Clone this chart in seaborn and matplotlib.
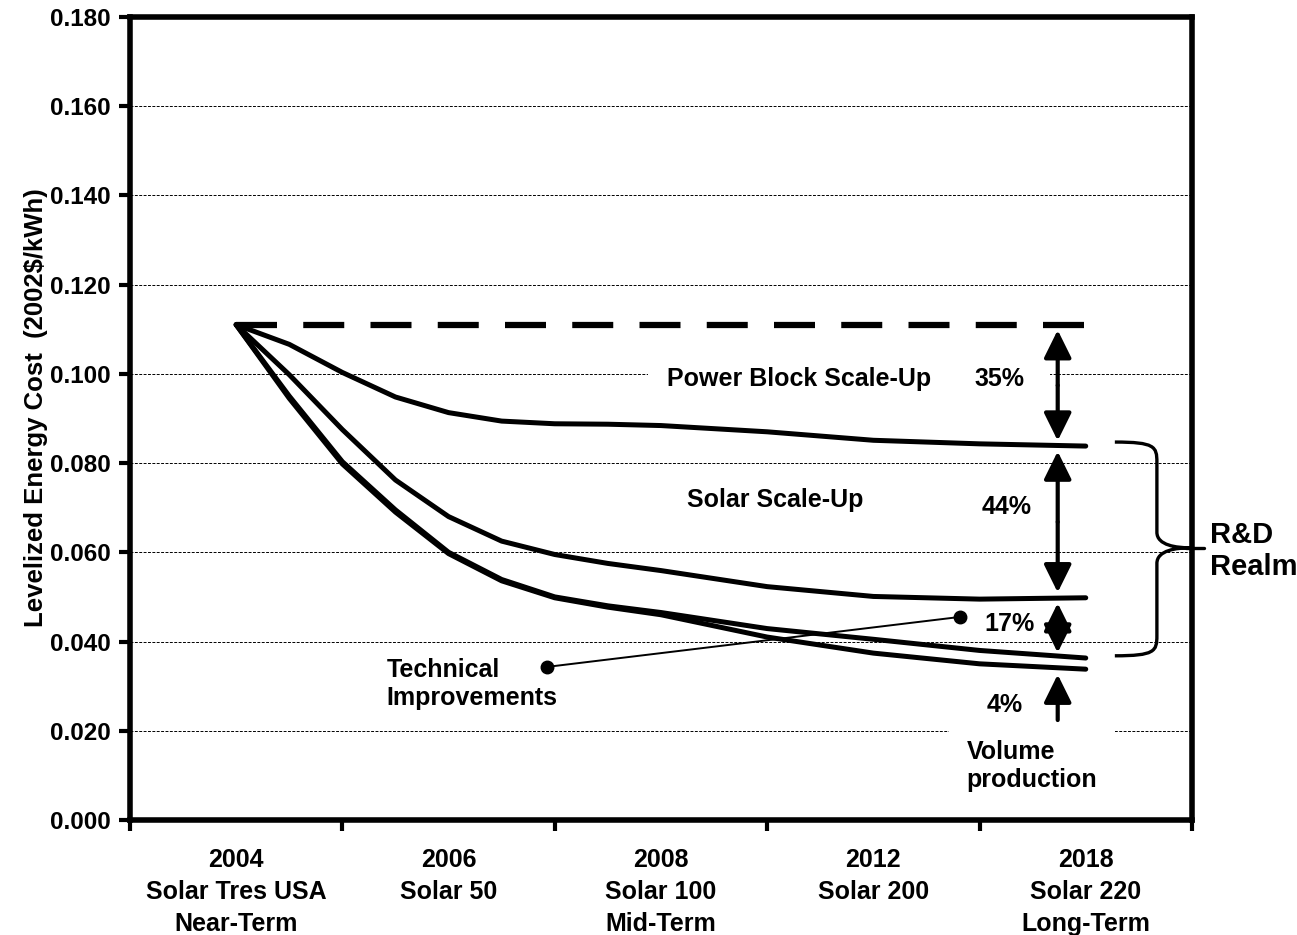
import numpy as np
import pandas as pd
import matplotlib
matplotlib.use("Agg")
import matplotlib.pyplot as plt
import seaborn as sns
from matplotlib.path import Path
from matplotlib.patches import PathPatch

# ---------------- data ----------------
categories = ["2004\nSolar Tres USA\nNear-Term", "2006\nSolar 50",
              "2008\nSolar 100\nMid-Term", "2012\nSolar 200",
              "2018\nSolar 220\nLong-Term"]

# position along the category axis (0 = 2004 ... 4 = 2018)
x_pos = [0, 0.25, 0.5, 0.75, 1.0, 1.25, 1.5, 1.75, 2.0, 2.5, 3.0, 3.5, 4.0]

baseline_x = [0, 4]
baseline = [0.111, 0.111]

power_block = [0.111, 0.1066, 0.1003, 0.0948, 0.0913, 0.0894, 0.0888,
               0.0887, 0.0884, 0.0870, 0.0851, 0.0843, 0.0838]
solar_scale = [0.111, 0.0998, 0.0875, 0.0762, 0.0680, 0.0625, 0.0595,
               0.0575, 0.0559, 0.0523, 0.0501, 0.0495, 0.0498]
tech_impr = [0.111, 0.0950, 0.0803, 0.0695, 0.0600, 0.0539, 0.0500,
             0.0480, 0.0465, 0.0429, 0.0405, 0.0380, 0.0363]
volume_prod = [0.111, 0.0945, 0.0798, 0.0690, 0.0597, 0.0536, 0.0498,
               0.0477, 0.0460, 0.0410, 0.0374, 0.0350, 0.0338]

pct_labels = ["35%", "44%", "17%", "4%"]
y_ticks = np.arange(0, 0.181, 0.02)

# ---------------- style ----------------
sns.set_style("white")
plt.rcParams['font.family'] = ['Liberation Sans', 'DejaVu Sans']
plt.rcParams['font.weight'] = 'bold'
plt.rcParams['axes.labelweight'] = 'bold'
plt.rcParams['text.color'] = 'black'
plt.rcParams['axes.labelcolor'] = 'black'
plt.rcParams['xtick.color'] = 'black'
plt.rcParams['ytick.color'] = 'black'

fig = plt.figure(figsize=(12.97, 9.35), dpi=100)
ax = fig.add_axes([0.1002, 0.123, 0.8188, 0.859])

# gridlines
for yv in y_ticks[1:-1]:
    ax.axhline(yv, color='k', lw=0.7, ls=(0, (3, 1.5)), zorder=1)

# dashed 2004 reference level
sns.lineplot(x=baseline_x, y=baseline, color='k', lw=4.5,
             linestyle=(0, (6.56, 4.2)), ax=ax, zorder=4)

# cost reduction curves
for vals in [power_block, solar_scale, tech_impr, volume_prod]:
    sns.lineplot(x=x_pos, y=vals, color='k', lw=3.6, ax=ax, zorder=4,
                 solid_capstyle='round')

ax.set_xlim(-0.5, 4.5)
ax.set_ylim(0, 0.18)

# axis ticks: marks at category edges, labels at centres
ax.set_xticks(np.arange(-0.5, 4.6, 1))
ax.set_xticklabels([])
ax.set_xticks(np.arange(5), categories, minor=True)
ax.tick_params(axis='x', which='minor', bottom=True, length=0, pad=20, labelsize=18)
ax.tick_params(axis='x', which='major', bottom=True, direction='out', length=8, width=3)
ax.set_yticks(y_ticks)
ax.set_yticklabels([f"{v:.3f}" for v in y_ticks])
ax.tick_params(axis='y', left=True, direction='out', length=8, width=3,
               labelsize=17.5, pad=6)
for lab in ax.get_xticklabels(minor=True):
    lab.set_fontweight('bold')
    lab.set_linespacing(1.42)
for lab in ax.get_yticklabels():
    lab.set_fontweight('bold')

for s in ax.spines.values():
    s.set_linewidth(4)
    s.set_color('k')

ax.set_ylabel("Levelized Energy Cost  (2002$/kWh)", fontsize=18.5)
ax.yaxis.set_label_coords(-0.077, 0.514)

# ---------------- annotations ----------------
fs = 18
ax.text(2.651, 0.0989, "Power Block Scale-Up", ha='center', va='center', fontsize=fs,
        bbox=dict(fc='white', ec='none', boxstyle='square,pad=0.75'), zorder=3)
ax.text(3.594, 0.0989, pct_labels[0], ha='center', va='center', fontsize=fs,
        bbox=dict(fc='white', ec='none', boxstyle='square,pad=1.0'), zorder=3)
ax.text(2.538, 0.0717, "Solar Scale-Up", ha='center', va='center', fontsize=fs)
ax.text(3.627, 0.0702, pct_labels[1], ha='center', va='center', fontsize=fs)
ax.text(3.64, 0.0439, pct_labels[2], ha='center', va='center', fontsize=fs)
ax.text(3.618, 0.0258, pct_labels[3], ha='center', va='center', fontsize=fs)
ax.text(3.439, 0.0121, "Volume\nproduction", ha='left', va='center', fontsize=fs,
        linespacing=1.25,
        bbox=dict(fc='white', ec='none', boxstyle='square,pad=0.7'), zorder=3)
ax.text(0.708, 0.0305, "Technical\nImprovements", ha='left', va='center',
        fontsize=fs, linespacing=1.25)
ax.text(4.585, 0.0603, "R&D\nRealm", ha='left', va='center', fontsize=21,
        linespacing=1.2, clip_on=False)

# leader line for technical improvements
ax.plot([1.462, 3.406], [0.0343, 0.0455], color='k', lw=1.4, zorder=5)
ax.plot([1.462, 3.406], [0.0343, 0.0455], 'o', color='k', ms=9, zorder=5)

# arrows between the curve end levels (double arrows = two halves from the middle)
arrow_x = 3.868
gap = 0.0012
aprops = dict(arrowstyle='-|>,head_length=0.85,head_width=0.42',
              mutation_scale=20, lw=3, color='k', shrinkA=0, shrinkB=0)
levels = [baseline[-1], power_block[-1], solar_scale[-1], tech_impr[-1]]
for top, bot in zip(levels[:-1], levels[1:]):
    mid = (top + bot) / 2
    ax.annotate('', xy=(arrow_x, top - gap), xytext=(arrow_x, mid),
                arrowprops=aprops, zorder=6)
    ax.annotate('', xy=(arrow_x, bot + gap), xytext=(arrow_x, mid),
                arrowprops=aprops, zorder=6)
ax.annotate('', xy=(arrow_x, volume_prod[-1] - gap), xytext=(arrow_x, 0.0224),
            arrowprops=aprops, zorder=6)

# curly brace for the R&D realm
bx0, bx1, tip = 4.137, 4.335, 4.49
ytop, ybot, ymid = 0.0847, 0.0368, 0.0610
verts = [(bx0, ytop), (bx1 - 0.01, ytop), (bx1, ytop - 0.001), (bx1, ytop - 0.0045),
         (bx1, ymid + 0.0035),
         (bx1, ymid + 0.0005), (tip - 0.06, ymid), (tip, ymid),
         (tip - 0.06, ymid), (bx1, ymid - 0.0005), (bx1, ymid - 0.0035),
         (bx1, ybot + 0.0045),
         (bx1, ybot + 0.001), (bx1 - 0.01, ybot), (bx0, ybot)]
codes = [Path.MOVETO, Path.CURVE4, Path.CURVE4, Path.CURVE4,
         Path.LINETO,
         Path.CURVE4, Path.CURVE4, Path.CURVE4,
         Path.CURVE4, Path.CURVE4, Path.CURVE4,
         Path.LINETO,
         Path.CURVE4, Path.CURVE4, Path.CURVE4]
ax.add_patch(PathPatch(Path(verts, codes), fc='none', ec='k', lw=2.4,
                       clip_on=False, zorder=6))
ax.plot([tip - 0.02, 4.555], [ymid, ymid], color='k', lw=2.4, clip_on=False, zorder=6)

fig.savefig("out.png", dpi=100)
